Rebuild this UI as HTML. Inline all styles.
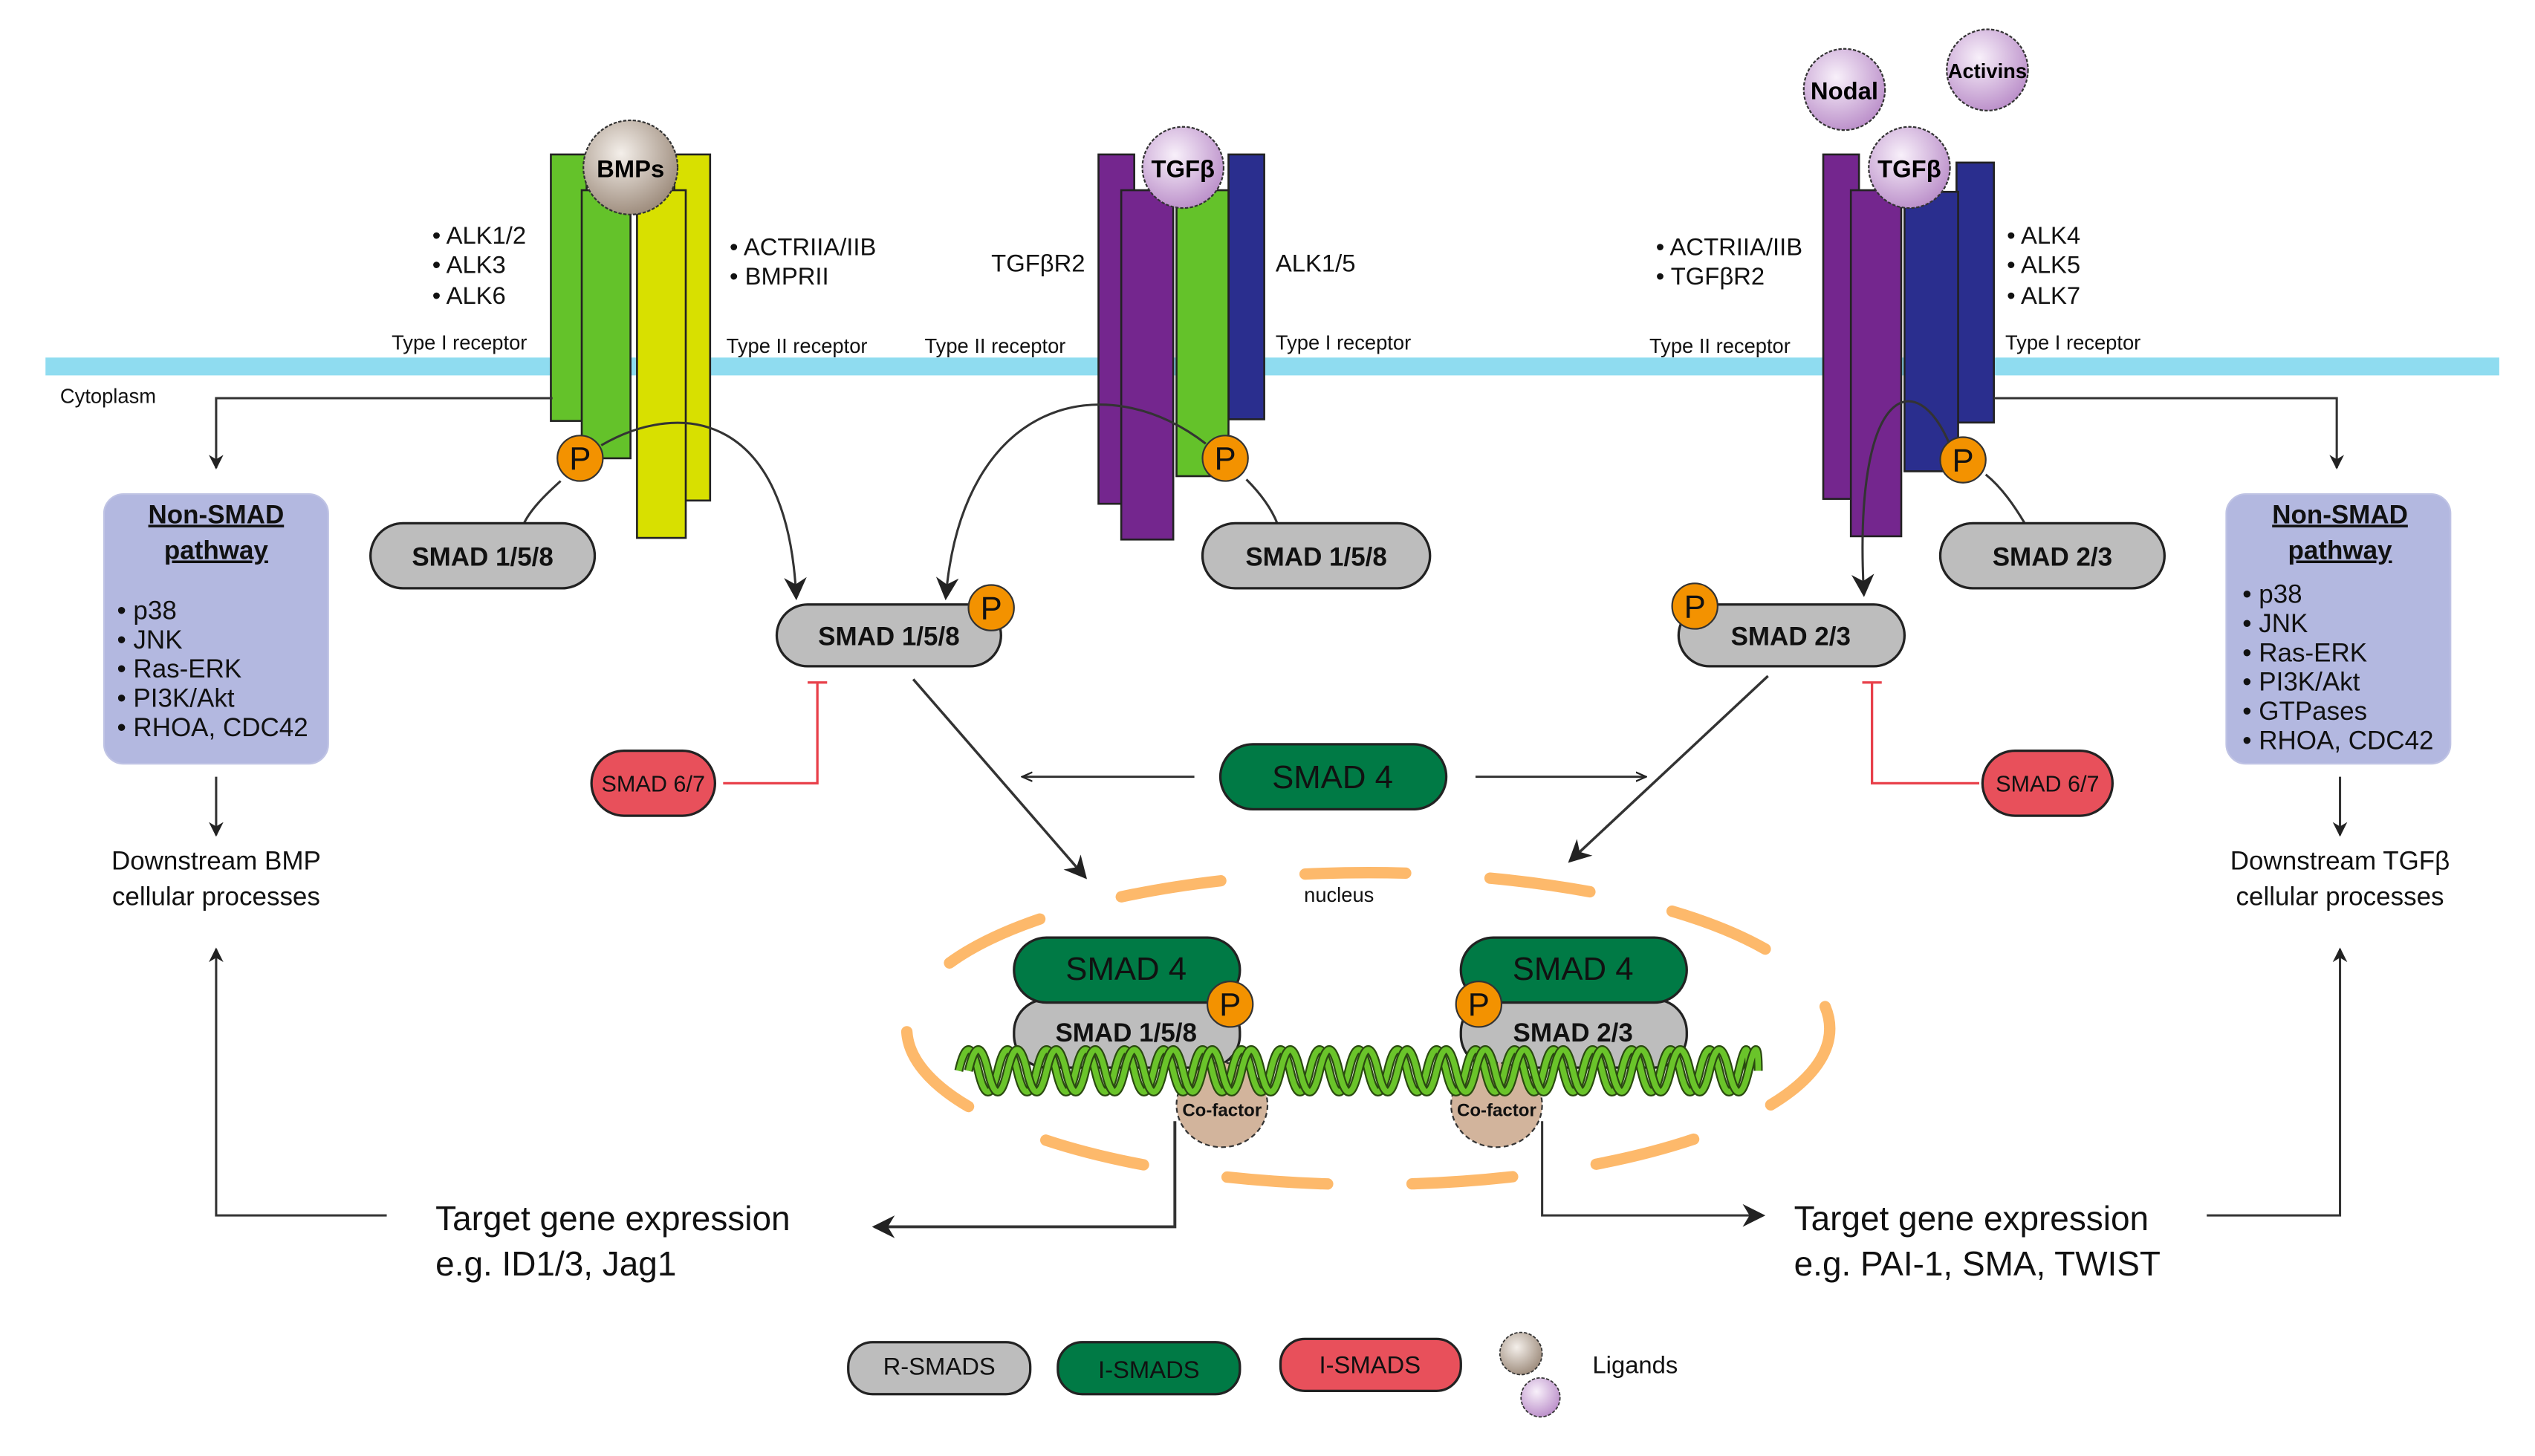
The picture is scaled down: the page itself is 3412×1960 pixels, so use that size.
<!DOCTYPE html>
<html><head><meta charset="utf-8">
<style>
html,body{margin:0;padding:0;background:#fff;}
svg{display:block;}
text{font-family:"Liberation Sans Narrow","Liberation Sans",sans-serif;}
</style></head>
<body>
<svg width="3412" height="1960" viewBox="0 0 1560 896" xmlns="http://www.w3.org/2000/svg">
<defs>
<radialGradient id="gb" cx="0.4" cy="0.35" r="0.7"><stop offset="0" stop-color="#f4efea"/><stop offset="1" stop-color="#9a8878"/></radialGradient>
<radialGradient id="gp" cx="0.4" cy="0.35" r="0.7"><stop offset="0" stop-color="#f8f0fa"/><stop offset="1" stop-color="#b98cc8"/></radialGradient>
<marker id="ah" viewBox="0 0 10 10" refX="9" refY="5" markerWidth="9" markerHeight="9" orient="auto" markerUnits="userSpaceOnUse"><path d="M0,0 L10,5 L0,10 L3,5 z" fill="#222"/></marker>
<marker id="ah2" viewBox="0 0 10 10" refX="9" refY="5" markerWidth="14" markerHeight="14" orient="auto" markerUnits="userSpaceOnUse"><path d="M0,0 L10,5 L0,10 L3,5 z" fill="#222"/></marker>
<marker id="ahs" viewBox="0 0 10 10" refX="9" refY="5" markerWidth="7" markerHeight="7" orient="auto" markerUnits="userSpaceOnUse"><path d="M0,1 L9,5 L0,9" fill="none" stroke="#222" stroke-width="1.5"/></marker>
<path id="hx" d="M590,659 Q596,633 602,659 T614,659 T626,659 T638,659 T650,659 T662,659 T674,659 T686,659 T698,659 T710,659 T722,659 T734,659 T746,659 T758,659 T770,659 T782,659 T794,659 T806,659 T818,659 T830,659 T842,659 T854,659 T866,659 T878,659 T890,659 T902,659 T914,659 T926,659 T938,659 T950,659 T962,659 T974,659 T986,659 T998,659 T1010,659 T1022,659 T1034,659 T1046,659 T1058,659 T1070,659 T1076,659"/>
</defs>

<!-- membrane -->
<rect x="28" y="220" width="1510" height="11" fill="#8fdcf0"/>

<!-- BMP receptor -->
<rect x="339" y="95" width="22" height="164" fill="#64c22a" stroke="#222" stroke-width="1.2"/>
<rect x="358" y="117" width="30" height="165" fill="#64c22a" stroke="#222" stroke-width="1.2"/>
<rect x="415" y="95" width="22" height="213" fill="#d8e000" stroke="#222" stroke-width="1.2"/>
<rect x="392" y="117" width="30" height="214" fill="#d8e000" stroke="#222" stroke-width="1.2"/>
<circle cx="388" cy="103" r="29" fill="url(#gb)" stroke="#333" stroke-width="1" stroke-dasharray="2 1"/>
<text x="388" y="109" font-size="15" font-weight="bold" text-anchor="middle">BMPs</text>

<!-- middle TGFb receptor -->
<rect x="676" y="95" width="22" height="215" fill="#74268e" stroke="#222" stroke-width="1.2"/>
<rect x="690" y="117" width="32" height="215" fill="#74268e" stroke="#222" stroke-width="1.2"/>
<rect x="756" y="95" width="22" height="163" fill="#2a2e8e" stroke="#222" stroke-width="1.2"/>
<rect x="724" y="117" width="32" height="176" fill="#64c22a" stroke="#222" stroke-width="1.2"/>
<circle cx="728" cy="103" r="25" fill="url(#gp)" stroke="#333" stroke-width="1" stroke-dasharray="2 1"/>
<text x="728" y="109" font-size="15" font-weight="bold" text-anchor="middle">TGFβ</text>

<!-- right receptor -->
<rect x="1122" y="95" width="22" height="212" fill="#74268e" stroke="#222" stroke-width="1.2"/>
<rect x="1139" y="117" width="31" height="213" fill="#74268e" stroke="#222" stroke-width="1.2"/>
<rect x="1204" y="100" width="23" height="160" fill="#2a2e8e" stroke="#222" stroke-width="1.2"/>
<rect x="1172" y="118" width="33" height="172" fill="#2a2e8e" stroke="#222" stroke-width="1.2"/>
<circle cx="1175" cy="103" r="25" fill="url(#gp)" stroke="#333" stroke-width="1" stroke-dasharray="2 1"/>
<text x="1175" y="109" font-size="15" font-weight="bold" text-anchor="middle">TGFβ</text>
<circle cx="1135" cy="55" r="25" fill="url(#gp)" stroke="#333" stroke-width="1" stroke-dasharray="2 1"/>
<text x="1135" y="61" font-size="15" font-weight="bold" text-anchor="middle">Nodal</text>
<circle cx="1223" cy="43" r="25" fill="url(#gp)" stroke="#333" stroke-width="1" stroke-dasharray="2 1"/>
<text x="1223" y="48" font-size="12.5" font-weight="bold" text-anchor="middle">Activins</text>

<!-- receptor labels -->
<g font-size="15" fill="#111">
<text x="266" y="150">• ALK1/2</text>
<text x="266" y="168">• ALK3</text>
<text x="266" y="187">• ALK6</text>
<text x="449" y="157">• ACTRIIA/IIB</text>
<text x="449" y="175">• BMPRII</text>
<text x="610" y="167">TGFβR2</text>
<text x="785" y="167">ALK1/5</text>
<text x="1019" y="157">• ACTRIIA/IIB</text>
<text x="1019" y="175">• TGFβR2</text>
<text x="1235" y="150">• ALK4</text>
<text x="1235" y="168">• ALK5</text>
<text x="1235" y="187">• ALK7</text>
</g>
<g font-size="12.5" fill="#111">
<text x="241" y="215">Type I receptor</text>
<text x="447" y="217">Type II receptor</text>
<text x="569" y="217">Type II receptor</text>
<text x="785" y="215">Type I receptor</text>
<text x="1015" y="217">Type II receptor</text>
<text x="1234" y="215">Type I receptor</text>
<text x="37" y="248">Cytoplasm</text>
</g>

<!-- connectors -->
<g fill="none" stroke="#333" stroke-width="1.4">
<path d="M340,245 H133 V288" marker-end="url(#ah)"/>
<path d="M1227,245 H1438 V288" marker-end="url(#ah)"/>
<path d="M133,478 V514" marker-end="url(#ah)"/>
<path d="M1440,478 V514" marker-end="url(#ah)"/>
<path d="M370,274 C420,245 485,255 490,368" marker-end="url(#ah2)"/>
<path d="M742,273 C680,225 592,245 582,368" marker-end="url(#ah2)"/>
<path d="M1200,274 C1180,225 1140,235 1147,366" marker-end="url(#ah2)"/>
<path d="M345,296 C335,305 326,314 322,323"/>
<path d="M767,295 C775,303 782,312 786,322"/>
<path d="M1222,292 C1232,300 1240,312 1246,322"/>
<path d="M562,418 L668,540" stroke-width="1.6" marker-end="url(#ah2)"/>
<path d="M1088,416 L966,530" stroke-width="1.6" marker-end="url(#ah2)"/>
<path d="M735,478 H629" marker-end="url(#ahs)"/>
<path d="M908,478 H1013" marker-end="url(#ahs)"/>
<path d="M238,748 H133 V584" marker-end="url(#ah)"/>
<path d="M1358,748 H1440 V584" marker-end="url(#ah)"/>
<path d="M723,690 V755 H538" stroke-width="1.8" marker-end="url(#ah2)"/>
<path d="M949,690 V748 H1085" marker-end="url(#ah2)"/>
</g>
<g fill="none" stroke="#e8404a" stroke-width="1.5">
<path d="M445,482 H503 V420 M497,420 H509"/>
<path d="M1218,482 H1152 V420 M1146,420 H1158"/>
</g>

<!-- Non-SMAD boxes -->
<rect x="64" y="304" width="138" height="166" rx="12" fill="#b3b8e0" stroke="#bfc3e4"/>
<g font-size="16" fill="#111">
<text x="133" y="322" text-anchor="middle" font-weight="bold" text-decoration="underline">Non-SMAD</text>
<text x="133" y="344" text-anchor="middle" font-weight="bold" text-decoration="underline">pathway</text>
<text x="72" y="381">• p38</text>
<text x="72" y="399">• JNK</text>
<text x="72" y="417">• Ras-ERK</text>
<text x="72" y="435">• PI3K/Akt</text>
<text x="72" y="453">• RHOA, CDC42</text>
</g>
<rect x="1370" y="304" width="138" height="166" rx="12" fill="#b3b8e0" stroke="#bfc3e4"/>
<g font-size="16" fill="#111">
<text x="1440" y="322" text-anchor="middle" font-weight="bold" text-decoration="underline">Non-SMAD</text>
<text x="1440" y="344" text-anchor="middle" font-weight="bold" text-decoration="underline">pathway</text>
<text x="1380" y="371">• p38</text>
<text x="1380" y="389">• JNK</text>
<text x="1380" y="407">• Ras-ERK</text>
<text x="1380" y="425">• PI3K/Akt</text>
<text x="1380" y="443">• GTPases</text>
<text x="1380" y="461">• RHOA, CDC42</text>
</g>
<g font-size="16" fill="#111" text-anchor="middle">
<text x="133" y="535">Downstream BMP</text>
<text x="133" y="557">cellular processes</text>
<text x="1440" y="535">Downstream TGFβ</text>
<text x="1440" y="557">cellular processes</text>
</g>

<!-- cytoplasm SMADs -->
<g stroke="#222" stroke-width="1.5">
<rect x="228" y="322" width="138" height="40" rx="20" fill="#bdbdbd"/>
<rect x="740" y="322" width="140" height="40" rx="20" fill="#bdbdbd"/>
<rect x="1194" y="322" width="138" height="40" rx="20" fill="#bdbdbd"/>
<rect x="478" y="372" width="138" height="38" rx="19" fill="#bdbdbd"/>
<rect x="1033" y="372" width="139" height="38" rx="19" fill="#bdbdbd"/>
<rect x="751" y="458" width="139" height="40" rx="20" fill="#007a45"/>
<rect x="364" y="462" width="76" height="40" rx="20" fill="#e8505b"/>
<rect x="1220" y="462" width="80" height="40" rx="20" fill="#e8505b"/>
</g>
<g font-size="16" font-weight="bold" text-anchor="middle" fill="#111">
<text x="297" y="348">SMAD 1/5/8</text>
<text x="810" y="348">SMAD 1/5/8</text>
<text x="1263" y="348">SMAD 2/3</text>
<text x="547" y="397">SMAD 1/5/8</text>
<text x="1102" y="397">SMAD 2/3</text>
</g>
<text x="820" y="485" font-size="20" text-anchor="middle" fill="#111">SMAD 4</text>
<text x="402" y="487" font-size="14" text-anchor="middle" fill="#111">SMAD 6/7</text>
<text x="1260" y="487" font-size="14" text-anchor="middle" fill="#111">SMAD 6/7</text>

<!-- nucleus -->
<ellipse cx="842" cy="633" rx="284" ry="96" fill="none" stroke="#fdb96b" stroke-width="7" stroke-dasharray="62 52" stroke-linecap="round"/>
<text x="824" y="555" font-size="12.5" text-anchor="middle" fill="#111">nucleus</text>

<g stroke="#222" stroke-width="1.5">
<rect x="624" y="615" width="139" height="42" rx="20" fill="#bdbdbd"/>
<rect x="899" y="615" width="139" height="42" rx="20" fill="#bdbdbd"/>
<rect x="624" y="577" width="139" height="40" rx="20" fill="#007a45"/>
<rect x="899" y="577" width="139" height="40" rx="20" fill="#007a45"/>
</g>
<text x="693" y="603" font-size="20" text-anchor="middle" fill="#111">SMAD 4</text>
<text x="968" y="603" font-size="20" text-anchor="middle" fill="#111">SMAD 4</text>
<text x="693" y="641" font-size="16" font-weight="bold" text-anchor="middle" fill="#111">SMAD 1/5/8</text>
<text x="968" y="641" font-size="16" font-weight="bold" text-anchor="middle" fill="#111">SMAD 2/3</text>

<!-- cofactors -->
<ellipse cx="752" cy="680" rx="28" ry="26" fill="#d2b49c" stroke="#333" stroke-width="1" stroke-dasharray="3 2"/>
<ellipse cx="921" cy="680" rx="28" ry="26" fill="#d2b49c" stroke="#333" stroke-width="1" stroke-dasharray="3 2"/>
<text x="752" y="687" font-size="11" font-weight="bold" text-anchor="middle" fill="#111">Co-factor</text>
<text x="921" y="687" font-size="11" font-weight="bold" text-anchor="middle" fill="#111">Co-factor</text>

<!-- DNA helix -->
<use href="#hx" fill="none" stroke="#2a4a10" stroke-width="5.5"/>
<use href="#hx" fill="none" stroke="#6ac42a" stroke-width="3.5"/>
<use href="#hx" transform="translate(6,0)" fill="none" stroke="#2a4a10" stroke-width="5.5"/>
<use href="#hx" transform="translate(6,0)" fill="none" stroke="#6ac42a" stroke-width="3.5"/>

<!-- P circles -->
<g fill="#f39200" stroke="#333" stroke-width="1">
<circle cx="357" cy="282" r="14"/>
<circle cx="754" cy="282" r="14"/>
<circle cx="1208" cy="283" r="14"/>
<circle cx="610" cy="374" r="14"/>
<circle cx="1043" cy="373" r="14"/>
<circle cx="757" cy="618" r="14"/>
<circle cx="910" cy="618" r="14"/>
</g>
<g font-size="20" text-anchor="middle" fill="#111">
<text x="357" y="289">P</text>
<text x="754" y="289">P</text>
<text x="1208" y="290">P</text>
<text x="610" y="381">P</text>
<text x="1043" y="380">P</text>
<text x="757" y="625">P</text>
<text x="910" y="625">P</text>
</g>

<!-- target gene text -->
<g font-size="21" fill="#111">
<text x="268" y="757">Target gene expression</text>
<text x="268" y="785">e.g. ID1/3, Jag1</text>
<text x="1104" y="757">Target gene expression</text>
<text x="1104" y="785">e.g. PAI-1, SMA, TWIST</text>
</g>

<!-- legend -->
<g stroke="#222" stroke-width="1.5">
<rect x="522" y="826" width="112" height="32" rx="15" fill="#bdbdbd"/>
<rect x="651" y="826" width="112" height="32" rx="15" fill="#007a45"/>
<rect x="788" y="824" width="111" height="32" rx="15" fill="#e8505b"/>
</g>
<g font-size="15" text-anchor="middle" fill="#111">
<text x="578" y="846">R-SMADS</text>
<text x="707" y="848">I-SMADS</text>
<text x="843" y="845">I-SMADS</text>
</g>
<circle cx="936" cy="833" r="13" fill="url(#gb)" stroke="#333" stroke-width="0.8" stroke-dasharray="2 1"/>
<circle cx="948" cy="860" r="12" fill="url(#gp)" stroke="#333" stroke-width="0.8" stroke-dasharray="2 1"/>
<text x="980" y="845" font-size="15" fill="#111">Ligands</text>
</svg>
</body></html>
